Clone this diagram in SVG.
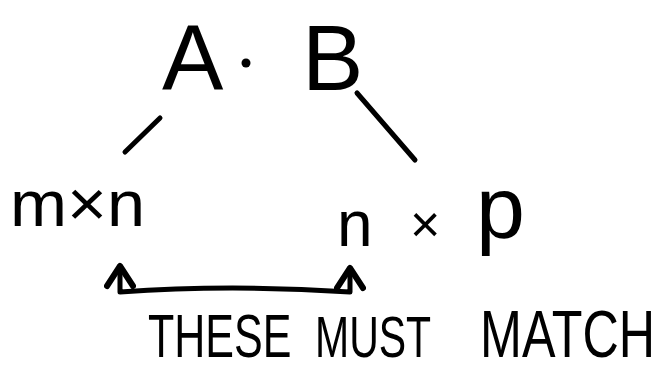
<svg xmlns="http://www.w3.org/2000/svg" width="667" height="372" viewBox="0 0 667 372">
<style>
.t{font-family:"Liberation Sans","DejaVu Sans",sans-serif;fill:#000}
.ln{stroke:#000;stroke-width:5;stroke-linecap:round;fill:none;stroke-linejoin:round}
</style>
<defs>
<marker id="ah" markerUnits="userSpaceOnUse" viewBox="-26 -16 30 32" refX="0" refY="0" markerWidth="30" markerHeight="32" orient="auto-start-reverse">
<path d="M-20,-13 L0,0 L-20,13" fill="none" stroke="#000" stroke-width="6" stroke-linecap="round" stroke-linejoin="round"/>
</marker>
</defs>
<rect width="667" height="372" fill="#fff"/>
<g id="product">
<text class="t" x="162" y="90" font-size="92">A</text>
<circle cx="246" cy="63" r="4.5" fill="#000"/>
<text class="t" x="302" y="90" font-size="92">B</text>
</g>
<g id="left-dims">
<text class="t" transform="translate(10,226) scale(1.07,1)" x="0" y="0" font-size="64">m×n</text>
</g>
<g id="right-dims">
<text class="t" x="337" y="246" font-size="64">n</text>
<text class="t" x="410" y="242" font-size="52">×</text>
<text class="t" x="476" y="238" font-size="88">p</text>
</g>
<g id="note">
<text class="t" transform="translate(148,357) scale(1,1.4)" x="0" y="0" font-size="43">THESE</text>
<text class="t" transform="translate(315,357) scale(1,1.4)" x="0" y="0" font-size="41">MUST</text>
<text class="t" transform="translate(480,357) scale(1.07,1.4)" x="0" y="0" font-size="47">MATCH</text>
</g>
<g id="connectors">
<line class="ln" x1="125" y1="152" x2="160" y2="118"/>
<line class="ln" x1="357" y1="93" x2="415" y2="160"/>
<path class="ln" d="M120,266 L120,292 Q230,284 350,292 L350,268" marker-start="url(#ah)" marker-end="url(#ah)"/>
</g>
</svg>
